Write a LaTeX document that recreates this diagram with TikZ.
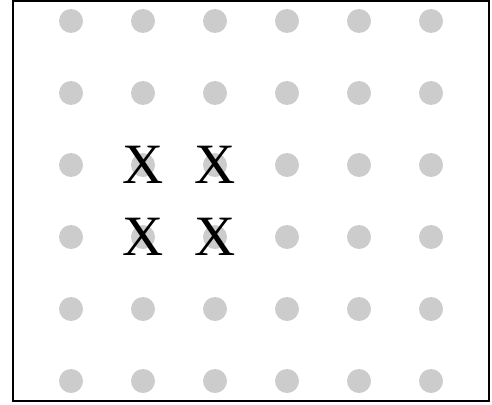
\documentclass[tikz,border=0pt]{standalone}
\usepackage{fontspec}
\setmainfont{Liberation Serif}
\begin{document}
\begin{tikzpicture}[x=1pt,y=-1pt,
  dot/.style={circle,fill=black!20,minimum size=24pt,inner sep=0pt},
  xmark/.style={font=\fontsize{57}{57}\selectfont,inner sep=0pt,text=black}]
\useasboundingbox (0,0) rectangle (492,404);
\draw[line width=2.2pt] (13,1) rectangle (489,401);
\foreach \i in {0,...,5}{
  \foreach \j in {0,...,5}{
    \node[dot] (d\i\j) at ({71+72*\i},{21+72*\j}) {};
  }
}
\node[xmark] (x12) at (d12) {X};
\node[xmark] (x22) at (d22) {X};
\node[xmark] (x13) at (d13) {X};
\node[xmark] (x23) at (d23) {X};
\end{tikzpicture}
\end{document}
